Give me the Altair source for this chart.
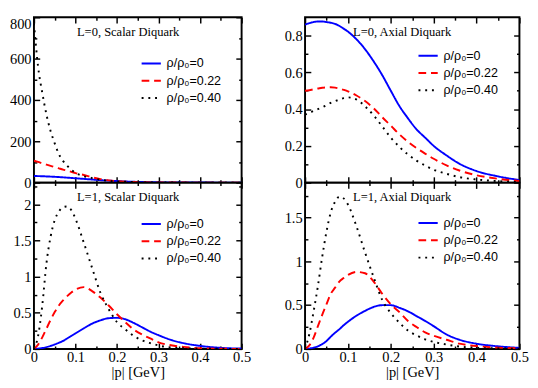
import altair as alt
import pandas as pd

SERIF = "Liberation Serif, Times New Roman, serif"
SANS = "Liberation Sans, Arial, sans-serif"

# ---- data ----
momentum = [0, 0.01, 0.02, 0.03, 0.04, 0.05, 0.06, 0.07, 0.08, 0.09, 0.1, 0.12, 0.14,
            0.16, 0.18, 0.2, 0.22, 0.24, 0.26, 0.28, 0.3, 0.33, 0.36, 0.4, 0.45, 0.5]

series_labels = ["ρ/ρ₀=0", "ρ/ρ₀=0.22", "ρ/ρ₀=0.40"]
series_colors = ["#0000ff", "#ff0000", "#000000"]
series_dashes = [[1, 0], [8, 5], [2, 5]]

# L=0 scalar diquark
l0s_rho000 = [32, 31.5, 31, 30, 29, 28, 27, 25.5, 24, 22.5, 21, 18, 15, 12, 9.5, 7.5, 5.5, 4, 3, 2, 1.5, 1, 0.5, 0.3, 0.1, 0]
l0s_rho022 = [106, 100, 93, 87, 81, 75, 69, 63, 58, 52, 46, 37, 26, 17, 11, 7, 4.5, 3, 2, 1.2, 0.8, 0.4, 0.2, 0.1, 0, 0]
l0s_rho040 = [770, 560, 435, 330, 250, 190, 138, 105, 82, 62, 47, 31, 22, 14, 9, 6, 4, 2.5, 1.5, 1, 0.6, 0.3, 0.1, 0, 0, 0]

# L=0 axial diquark
l0a_rho000 = [0.86, 0.868, 0.874, 0.877, 0.877, 0.874, 0.87, 0.864, 0.853, 0.838, 0.822, 0.78, 0.726,
              0.66, 0.585, 0.5, 0.417, 0.35, 0.29, 0.245, 0.2, 0.148, 0.103, 0.063, 0.034, 0.014]
l0a_rho022 = [0.5, 0.503, 0.508, 0.512, 0.516, 0.518, 0.519, 0.517, 0.512, 0.505, 0.497, 0.474, 0.444,
              0.405, 0.356, 0.31, 0.263, 0.222, 0.188, 0.158, 0.13, 0.094, 0.066, 0.04, 0.021, 0.009]
l0a_rho040 = [0.37, 0.38, 0.39, 0.4, 0.41, 0.422, 0.434, 0.443, 0.452, 0.46, 0.464, 0.452, 0.415,
              0.366, 0.306, 0.245, 0.195, 0.153, 0.12, 0.093, 0.07, 0.048, 0.03, 0.017, 0.008, 0.003]

# L=1 scalar diquark
l1s_rho000 = [0, 0.004, 0.012, 0.025, 0.042, 0.062, 0.085, 0.11, 0.145, 0.18, 0.215, 0.285, 0.35,
              0.395, 0.425, 0.43, 0.41, 0.36, 0.3, 0.24, 0.19, 0.125, 0.08, 0.042, 0.015, 0.005]
l1s_rho022 = [0, 0.06, 0.16, 0.28, 0.4, 0.51, 0.6, 0.67, 0.73, 0.78, 0.82, 0.855, 0.8,
              0.71, 0.6, 0.48, 0.37, 0.27, 0.2, 0.145, 0.09, 0.05, 0.028, 0.01, 0.003, 0]
l1s_rho040 = [0, 0.18, 0.6, 1.18, 1.55, 1.78, 1.9, 1.96, 1.97, 1.92, 1.8, 1.47, 1.12,
              0.78, 0.55, 0.37, 0.27, 0.18, 0.12, 0.08, 0.048, 0.02, 0.01, 0.004, 0.001, 0]

# L=1 axial diquark
l1a_rho000 = [0, 0.004, 0.015, 0.03, 0.055, 0.09, 0.14, 0.185, 0.225, 0.27, 0.31, 0.38, 0.435,
              0.48, 0.5, 0.5, 0.47, 0.43, 0.375, 0.32, 0.26, 0.165, 0.105, 0.06, 0.03, 0.012]
l1a_rho022 = [0, 0.04, 0.13, 0.26, 0.39, 0.51, 0.63, 0.7, 0.77, 0.81, 0.845, 0.88, 0.865,
              0.77, 0.63, 0.51, 0.42, 0.32, 0.25, 0.19, 0.15, 0.105, 0.06, 0.033, 0.015, 0.006]
l1a_rho040 = [0, 0.17, 0.43, 0.72, 1.05, 1.34, 1.56, 1.68, 1.74, 1.72, 1.65, 1.4, 1.1,
              0.82, 0.56, 0.41, 0.3, 0.21, 0.155, 0.11, 0.08, 0.05, 0.028, 0.013, 0.006, 0.002]

x_major = [0, 0.1, 0.2, 0.3, 0.4, 0.5]
x_minor = [0.05, 0.15, 0.25, 0.35, 0.45]
x_title = "|p| [GeV]"


def make_panel(curves, label, ydomain, ymajor, yminor, width, height, bottom,
               legend_x, legend_y, label_x, top_label_flush=False):
    rows = []
    for name, vals in zip(series_labels, curves):
        for p, v in zip(momentum, vals):
            rows.append({"p": p, "v": v, "series": name})
    df = pd.DataFrame(rows)

    xs = alt.Scale(domain=[0, 0.5], nice=False, zero=False)
    ys = alt.Scale(domain=ydomain, nice=False, zero=False)

    base = dict(domain=False, grid=False, tickColor="black", tickWidth=1.5,
                labelFont=SERIF, labelFontSize=15, labelColor="black", format="~r")

    def axis(orient, values, size, labels=False, title=None, **kw):
        opts = dict(base)
        opts.update(kw)
        return alt.Axis(orient=orient, values=values, tickSize=size, offset=-size,
                        labels=labels, title=title, **opts)

    bottom_kw = dict(labelFlush=False, labelPadding=1)
    if bottom:
        bottom_kw.update(titleFont=SERIF, titleFontSize=15, titleFontWeight="normal",
                         titleColor="black", titlePadding=1)
    ax_bottom = axis("bottom", x_major, 6, labels=bottom,
                     title=x_title if bottom else None, **bottom_kw)
    left_kw = dict(labelPadding=3)
    if top_label_flush:
        left_kw["labelBaseline"] = {"condition": {"test": "datum.value >= %g" % ydomain[1],
                                                  "value": "top"}, "value": "middle"}
    ax_left = axis("left", ymajor, 6, labels=True, **left_kw)

    leg = alt.Legend(orient="none", legendX=legend_x, legendY=legend_y, title=None,
                     symbolType="stroke", symbolSize=400, symbolStrokeWidth=2,
                     labelFont=SANS, labelFontSize=13, labelColor="black",
                     rowPadding=-2.5, padding=0, labelOffset=5)

    lines = alt.Chart(df).mark_line(strokeWidth=2, interpolate="monotone", clip=True).encode(
        x=alt.X("p:Q", scale=xs, axis=ax_bottom),
        y=alt.Y("v:Q", scale=ys, axis=ax_left),
        color=alt.Color("series:N", scale=alt.Scale(domain=series_labels, range=series_colors),
                        legend=leg),
        strokeDash=alt.StrokeDash("series:N",
                                  scale=alt.Scale(domain=series_labels, range=series_dashes),
                                  legend=leg),
    )

    def ghost(xaxis, yaxis):
        return alt.Chart(df).mark_line(strokeOpacity=0).encode(
            x=alt.X("p:Q", scale=xs, axis=xaxis),
            y=alt.Y("v:Q", scale=ys, axis=yaxis),
        )

    g1 = ghost(axis("top", x_major, 6), axis("right", ymajor, 6))
    g2 = ghost(axis("bottom", x_minor, 3), axis("left", yminor, 3))
    g3 = ghost(axis("top", x_minor, 3), axis("right", yminor, 3))

    text = alt.Chart(pd.DataFrame({"t": [label]})).mark_text(
        font=SERIF, fontSize=13, color="black", align="center", baseline="middle"
    ).encode(text="t:N", x=alt.value(label_x), y=alt.value(15))

    return alt.layer(lines, g1, g2, g3, text).resolve_axis(
        x="independent", y="independent").properties(width=width, height=height)


LW, RW = 216, 223
TH, BH = 172, 173

tl = make_panel([l0s_rho000, l0s_rho022, l0s_rho040], "L=0, Scalar Diquark",
                [0, 800], [0, 200, 400, 600, 800], [100, 300, 500, 700],
                LW, TH, False, 111, 37, 98, top_label_flush=True)
tr = make_panel([l0a_rho000, l0a_rho022, l0a_rho040], "L=0, Axial Diquark",
                [0, 0.9], [0, 0.2, 0.4, 0.6, 0.8], [0.1, 0.3, 0.5, 0.7],
                RW, TH, False, 117, 29, 101)
bl = make_panel([l1s_rho000, l1s_rho022, l1s_rho040], "L=1, Scalar Diquark",
                [0, 2.3], [0, 0.5, 1, 1.5, 2], [0.25, 0.75, 1.25, 1.75, 2.25],
                LW, BH, True, 111, 32, 98)
br = make_panel([l1a_rho000, l1a_rho022, l1a_rho040], "L=1, Axial Diquark",
                [0, 1.9], [0, 0.5, 1, 1.5], [0.25, 0.75, 1.25, 1.75],
                RW, BH, True, 117, 31, 101)

chart = alt.concat(
    tl, tr, bl, br, columns=2, spacing={"row": 0, "column": 66},
    bounds="flush", align="each",
).resolve_scale(
    x="independent", y="independent"
).resolve_legend(
    color="independent", strokeDash="independent"
).properties(
    padding=0, background="white"
).configure_view(stroke="black", strokeWidth=2)

chart.save("out.html", embed_options={"renderer": "svg", "actions": False})
